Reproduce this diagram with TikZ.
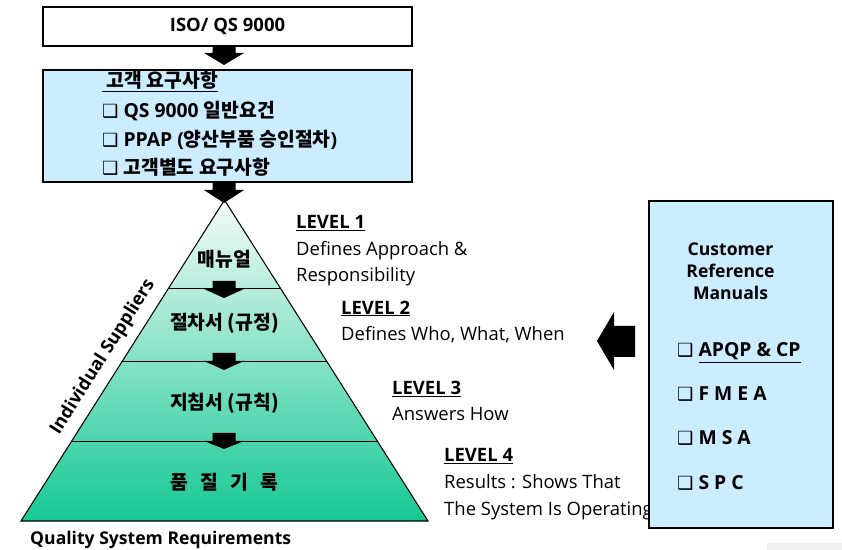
\documentclass[tikz,border=0pt]{standalone}
\usepackage{fontspec}
\setmainfont{Open Sans}
\newfontfamily\kr{Noto Sans CJK KR}
\newfontfamily\symf{DejaVu Sans}
\usetikzlibrary{calc}
\definecolor{reqblue}{RGB}{204,236,255}
\definecolor{pyrtop}{RGB}{244,251,248}
\definecolor{pyrbot}{RGB}{22,200,148}
\newcommand{\chk}{{\symf\mdseries\fontsize{15.5}{15.5}\selectfont ❑}\ }

\begin{document}
\begin{tikzpicture}[x=0.3mm, y=-0.3mm,
  frame/.style={draw, line width=0.9pt, inner sep=0pt},
  txt/.style={anchor=base west, inner sep=0pt, align=left,
              font=\fontsize{15.75}{23}\selectfont},
  bold/.style={inner sep=0pt, font=\fontsize{15}{19.2}\selectfont\bfseries},
  reqtxt/.style={anchor=base west, inner sep=0pt, font=\fontsize{16.5}{18}\selectfont\bfseries},
  layer/.style={anchor=base, inner sep=0pt, font=\fontsize{16.5}{18}\selectfont\bfseries\kr}
]
  \useasboundingbox (0,0) rectangle (842,550);

  % top boxes
  \node[frame, minimum width=110.7mm, minimum height=11.7mm, bold,
        font=\fontsize{15.75}{18}\selectfont\bfseries] (iso) at (227.5,26.5) {ISO/ QS 9000};
  \node[frame, fill=reqblue, minimum width=110.7mm, minimum height=33.6mm] (req) at (227.5,126) {};
  \node[reqtxt] (rq0) at (102,88)  {\underline{{\kr\ 고객 요구사항}}};
  \node[reqtxt] (rq1) at (102,118) {\chk QS 9000 {\kr 일반요건}};
  \node[reqtxt] (rq2) at (102,147) {\chk PPAP ({\kr 양산부품 승인절차})};
  \node[reqtxt] (rq3) at (102,175) {\chk {\kr 고객별도 요구사항}};

  % pyramid
  \coordinate (apex) at (224.5,200);
  \coordinate (bl) at (21,521);
  \coordinate (br) at (428,521);
  \shade[top color=pyrtop, bottom color=pyrbot] (apex) -- (br) -- (bl) -- cycle;
  \foreach \t in {0.277,0.5016,0.751}
    \draw[line width=0.8pt] ($(apex)!\t!(bl)$) -- ($(apex)!\t!(br)$);
  \draw[line width=0.9pt] (apex) -- (br) -- (bl) -- cycle;

  \node[layer] (m1) at (224.5,267) {매뉴얼};
  \node[layer] (m2) at (224.5,330) {절차서 (규정)};
  \node[layer] (m3) at (224.5,410) {지침서 (규칙)};
  \node[layer] (m4) at (224.5,490) {품\hspace{10.4pt}질\hspace{10.4pt}기\hspace{10.4pt}록};

  \node[bold, rotate=57.7, font=\fontsize{15.5}{18}\selectfont\bfseries] (ind) at (103,357)
    {Individual Suppliers};
  \node[bold, anchor=base west] (qsr) at (30,544) {Quality System Requirements};

  % block arrows
  \foreach \a/\b/\c in {46/53/65, 182/190/203, 281/289/298, 353/361/370, 433/441/449}
    \fill (212.5,\a) -- (235.5,\a) -- (235.5,\b) -- (244,\b) -- (224,\c)
          -- (204,\b) -- (212.5,\b) -- cycle;

  % levels (base = last line)
  \node[txt] (lv1) at (296,282) {\textbf{\underline{LEVEL 1}}\\Defines Approach \&\\Responsibility};
  \node[txt] (lv2) at (341,341) {\textbf{\underline{LEVEL 2}}\\Defines Who, What, When};
  \node[txt] (lv3) at (392,421) {\textbf{\underline{LEVEL 3}}\\Answers How};
  \node[txt] (lv4) at (444,515) {\textbf{\underline{LEVEL 4}}\\Results : Shows That\\The System Is Operating};

  % reference manuals
  \node[frame, fill=reqblue, minimum width=55.2mm, minimum height=98.1mm] (ref) at (741,364.5) {};
  \node[bold, anchor=base, align=center] (refh) at (730.5,300) {Customer\\Reference\\Manuals};
  \node[reqtxt] (r1) at (677,357) {\chk\underline{APQP \& CP}};
  \node[reqtxt] (r2) at (677,401) {\chk F M E A};
  \node[reqtxt] (r3) at (677,445) {\chk M S A};
  \node[reqtxt] (r4) at (677,489) {\chk S P C};

  \fill (635,326) -- (614,326) -- (614,312) -- (597,341) -- (614,370)
        -- (614,357) -- (635,357) -- cycle;

  \fill[gray!12] (767,543) rectangle (842,550);
\end{tikzpicture}
\end{document}
